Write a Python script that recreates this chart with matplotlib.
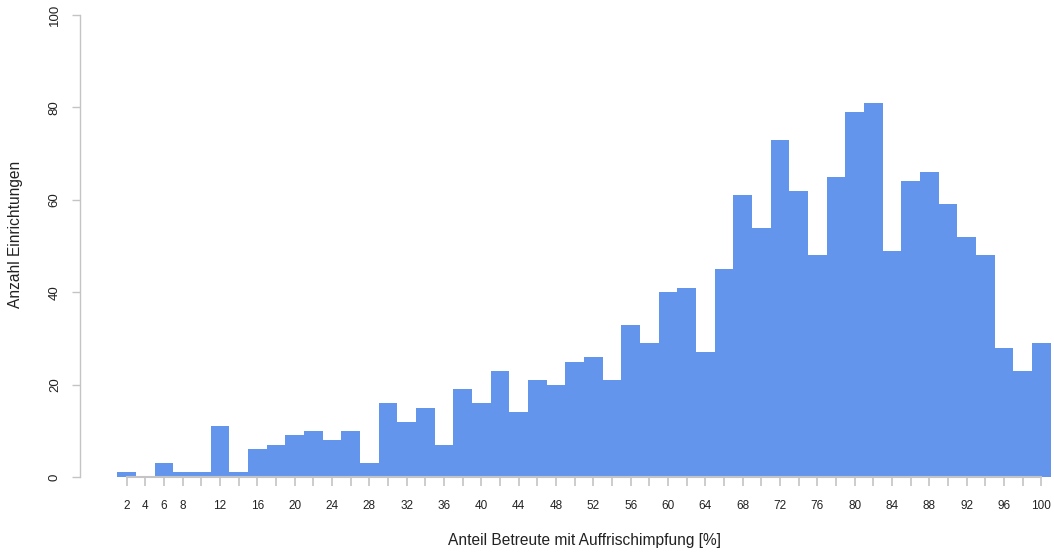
import numpy as np
import matplotlib
matplotlib.use('Agg')
import matplotlib.pyplot as plt

plt.rcParams['font.family'] = ['Liberation Sans', 'DejaVu Sans']

# Anteil Betreute mit Auffrischimpfung, Klassen zu je 2 %
bin_edges = list(range(0, 101, 2))
counts = [1, 0, 3, 1, 1, 11, 1, 6, 7, 9,
          10, 8, 10, 3, 16, 12, 15, 7, 19, 16,
          23, 14, 21, 20, 25, 26, 21, 33, 29, 40,
          41, 27, 45, 61, 54, 73, 62, 48, 65, 79,
          81, 49, 64, 66, 59, 52, 48, 28, 23, 29]
shown_labels = [2, 4, 6, 8, 12, 16, 20, 24, 28, 32, 36, 40, 44, 48,
                52, 56, 60, 64, 68, 72, 76, 80, 84, 88, 92, 96, 100]
y_ticks = [0, 20, 40, 60, 80, 100]

axis_grey = '#c4c4c4'
text_col = '#222222'

W, H = 1054, 555
fig = plt.figure(figsize=(W / 100, H / 100), dpi=100)
x0, x1 = 80, 1050.8
ax = fig.add_axes([x0 / W, (H - 477) / H, (x1 - x0) / W, (477 - 15) / H])

lefts = np.array(bin_edges[:-1])
ax.bar(lefts, counts, width=2, align='edge', color='#6495ED', linewidth=0)

ax.set_xlim(-4.0, 100)
ax.set_ylim(0, 100)

for s in ['top', 'right']:
    ax.spines[s].set_visible(False)
ax.spines['left'].set_color(axis_grey)
ax.spines['bottom'].set_color(axis_grey)
ax.spines['left'].set_bounds(0, 100)
ax.spines['left'].set_linewidth(1.0)
ax.spines['bottom'].set_linewidth(1.5)

centers = lefts + 1
ax.spines['bottom'].set_bounds(centers[0], centers[-1])
labels = []
for c in centers:
    up = int(c + 1)
    labels.append(str(up) if up in shown_labels else '')
ax.set_xticks(centers)
ax.set_xticklabels(labels)
ax.tick_params(axis='x', length=6.5, width=1.2, color=axis_grey,
               labelsize=8.5, labelcolor=text_col, pad=10)

ax.set_yticks(y_ticks)
ax.set_yticklabels([str(v) for v in y_ticks], rotation=90, va='center')
ax.tick_params(axis='y', length=5.8, width=1.0, color=axis_grey,
               labelsize=9.5, labelcolor=text_col, pad=8)

fig.text(584 / W, 1 - 540 / H, 'Anteil Betreute mit Auffrischimpfung [%]',
         ha='center', va='center', fontsize=11.2, color=text_col)
fig.text(16 / W, 1 - 234 / H, 'Anzahl Einrichtungen', rotation=90,
         ha='center', va='center', fontsize=11.2, color=text_col)

fig.savefig('out.png', dpi=100)
